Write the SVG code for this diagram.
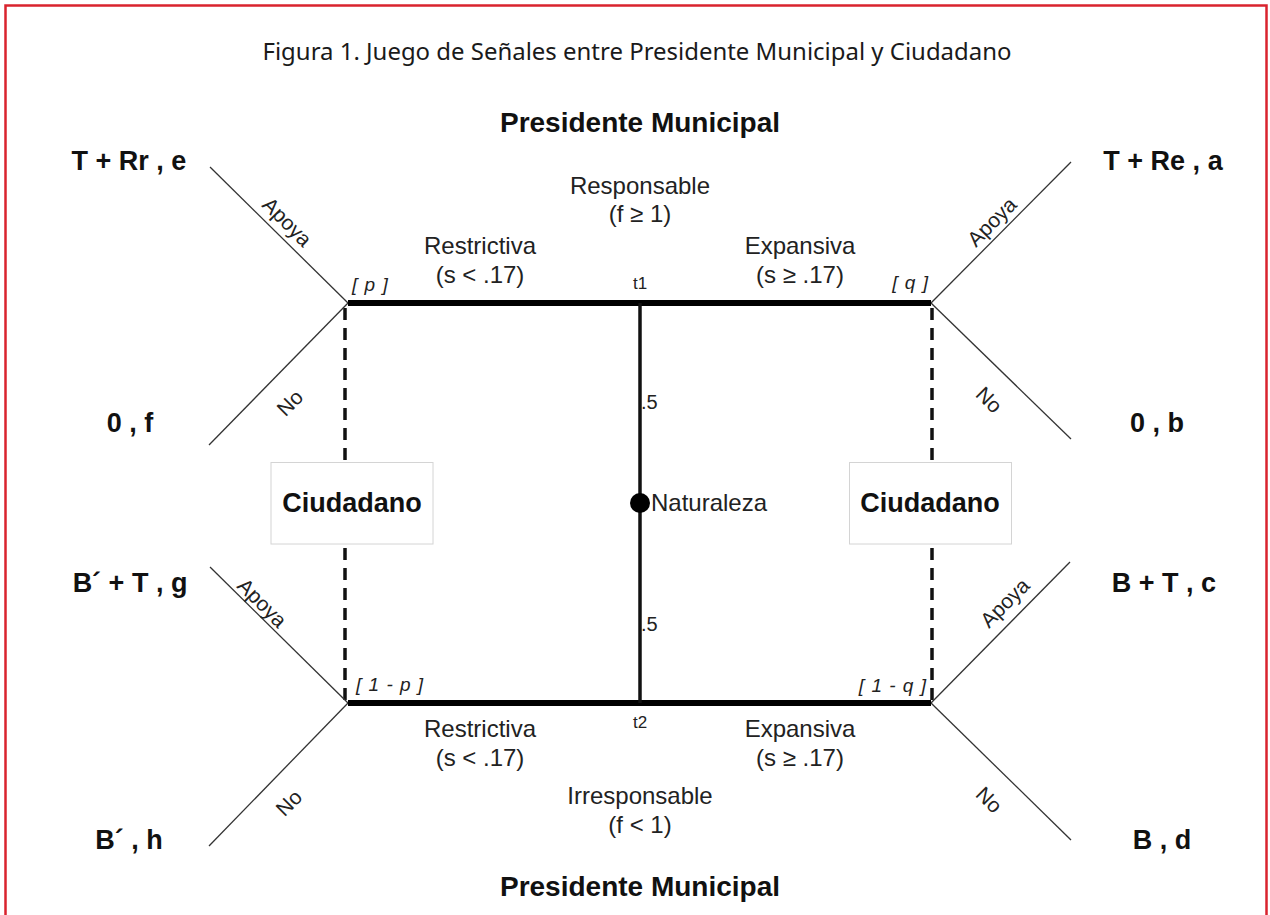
<svg xmlns="http://www.w3.org/2000/svg" width="1270" height="915" viewBox="0 0 1270 915">
<style>
.pay{font-family:"Liberation Sans",Arial,sans-serif;font-weight:bold;font-size:27px;fill:#111;text-anchor:middle}
.pm{font-family:"Liberation Sans",Arial,sans-serif;font-weight:bold;font-size:28px;fill:#111;text-anchor:middle}
.lab{font-family:"Liberation Sans",Arial,sans-serif;font-size:24px;fill:#222;text-anchor:middle}
.labs{font-family:"Liberation Sans",Arial,sans-serif;font-size:24px;fill:#222;text-anchor:start}
.rot{font-family:"Liberation Sans",Arial,sans-serif;font-size:21px;fill:#222;text-anchor:middle}
.sm{font-family:"Liberation Sans",Arial,sans-serif;font-size:17px;fill:#222;text-anchor:middle}
.br{font-family:"Liberation Sans",Arial,sans-serif;font-style:italic;font-size:19px;letter-spacing:1px;fill:#222}
.diag{stroke:#333;stroke-width:1.3;fill:none}
.thick{stroke:#000;stroke-width:6;fill:none}
.dash{stroke:#111;stroke-width:3.5;stroke-dasharray:12 8;fill:none}
.box{fill:#fff;stroke:#d4d4d4;stroke-width:1}
.cd{font-family:"Liberation Sans",Arial,sans-serif;font-weight:bold;font-size:27px;fill:#111;text-anchor:middle}
</style>
<rect x="0" y="0" width="1270" height="915" fill="#fff"/>
<rect x="5.5" y="5.5" width="1261" height="930" fill="none" stroke="#d9232e" stroke-width="2.5"/>
<text x="637" y="60" font-family="'Noto Sans','Open Sans',sans-serif" font-size="23" fill="#1a1a1a" text-anchor="middle" textLength="749" lengthAdjust="spacingAndGlyphs">Figura 1. Juego de Señales entre Presidente Municipal y Ciudadano</text>

<g id="connectors">
  <line class="dash" x1="345" y1="308" x2="345" y2="703"/>
  <line class="dash" x1="932" y1="308" x2="932" y2="703"/>
  <line class="diag" x1="210" y1="167" x2="348" y2="303"/>
  <line class="diag" x1="348" y1="303" x2="209" y2="445"/>
  <line class="diag" x1="931" y1="303" x2="1071" y2="162"/>
  <line class="diag" x1="931" y1="303" x2="1071" y2="439"/>
  <line class="diag" x1="210" y1="567" x2="348" y2="703"/>
  <line class="diag" x1="348" y1="703" x2="209" y2="846"/>
  <line class="diag" x1="931" y1="703" x2="1070" y2="562"/>
  <line class="diag" x1="931" y1="703" x2="1071" y2="840"/>
  <line class="thick" x1="348" y1="303" x2="931" y2="303"/>
  <line class="thick" x1="348" y1="703" x2="931" y2="703"/>
  <line x1="640" y1="303" x2="640" y2="703" stroke="#111" stroke-width="3.5"/>
</g>

<g id="labels-branches">
  <text class="rot" transform="translate(287,222) rotate(45)" y="7">Apoya</text>
  <text class="rot" transform="translate(290,403) rotate(-45)" y="7">No</text>
  <text class="rot" transform="translate(992,222) rotate(-45)" y="7">Apoya</text>
  <text class="rot" transform="translate(989,400) rotate(45)" y="7">No</text>
  <text class="rot" transform="translate(262,603) rotate(45)" y="7">Apoya</text>
  <text class="rot" transform="translate(289,803) rotate(-45)" y="7">No</text>
  <text class="rot" transform="translate(1005,603) rotate(-45)" y="7">Apoya</text>
  <text class="rot" transform="translate(989,800) rotate(45)" y="7">No</text>
</g>

<g id="president-top">
  <text class="pm" x="640" y="132">Presidente Municipal</text>
  <text class="lab" x="640" y="194">Responsable</text>
  <text class="lab" x="640" y="222">(f ≥ 1)</text>
  <text class="lab" x="480" y="254">Restrictiva</text>
  <text class="lab" x="480" y="283">(s &lt; .17)</text>
  <text class="lab" x="800" y="254">Expansiva</text>
  <text class="lab" x="800" y="283">(s ≥ .17)</text>
  <text class="sm" x="640" y="289">t1</text>
  <text class="br" x="352" y="291">[ p ]</text>
  <text class="br" x="929" y="289" text-anchor="end">[ q ]</text>
</g>

<g id="president-bottom">
  <text class="pm" x="640" y="896">Presidente Municipal</text>
  <text class="lab" x="640" y="804">Irresponsable</text>
  <text class="lab" x="640" y="833">(f &lt; 1)</text>
  <text class="lab" x="480" y="737">Restrictiva</text>
  <text class="lab" x="480" y="766">(s &lt; .17)</text>
  <text class="lab" x="800" y="737">Expansiva</text>
  <text class="lab" x="800" y="766">(s ≥ .17)</text>
  <text class="sm" x="640" y="728">t2</text>
  <text class="br" x="356" y="691">[ 1 - p ]</text>
  <text class="br" x="927" y="692" text-anchor="end">[ 1 - q ]</text>
</g>

<g id="naturaleza">
  <circle cx="640" cy="503" r="10" fill="#000"/>
  <text class="labs" x="651" y="511">Naturaleza</text>
  <text x="641" y="409" font-family="'Liberation Sans',Arial,sans-serif" font-size="20" fill="#222">.5</text>
  <text x="641" y="631" font-family="'Liberation Sans',Arial,sans-serif" font-size="20" fill="#222">.5</text>
</g>

<g id="ciudadano-left">
  <rect class="box" x="271" y="462.5" width="162" height="81.5"/>
  <text class="cd" x="352" y="512">Ciudadano</text>
</g>
<g id="ciudadano-right">
  <rect class="box" x="849.5" y="462.5" width="162" height="81.5"/>
  <text class="cd" x="930" y="512">Ciudadano</text>
</g>

<g id="payoffs">
  <text class="pay" x="129" y="170">T + Rr , e</text>
  <text class="pay" x="130" y="432">0 , f</text>
  <text class="pay" x="130" y="592">B´ + T , g</text>
  <text class="pay" x="129" y="849">B´ , h</text>
  <text class="pay" x="1163" y="170">T + Re , a</text>
  <text class="pay" x="1157" y="432">0 , b</text>
  <text class="pay" x="1164" y="592">B + T , c</text>
  <text class="pay" x="1162" y="849">B , d</text>
</g>
</svg>
